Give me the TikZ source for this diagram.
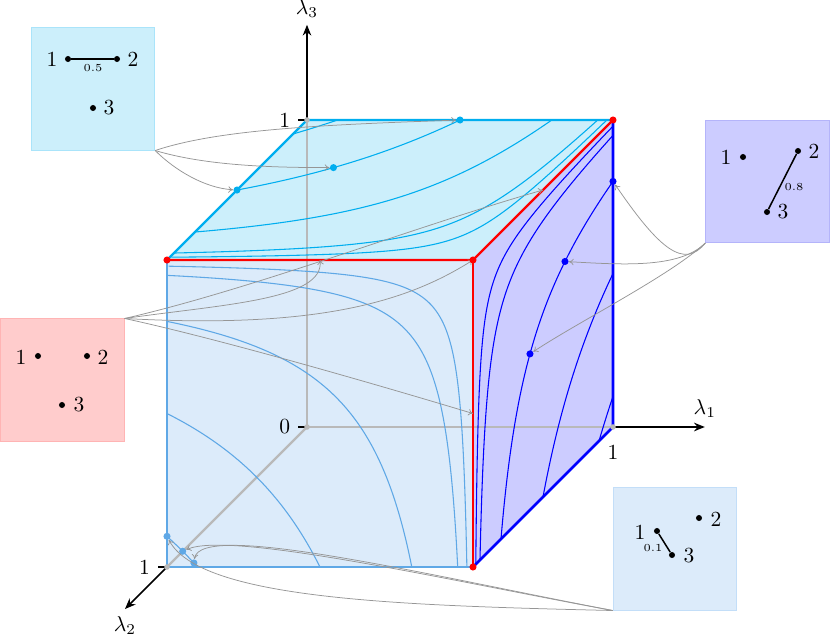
\documentclass[tikz,border=0pt]{standalone}
\usetikzlibrary{arrows.meta}
\definecolor{cyanC}{RGB}{0,174,239}
\definecolor{cyanF}{RGB}{204,239,251}
\definecolor{cyanB}{RGB}{170,228,250}
\definecolor{frontC}{RGB}{95,168,230}
\definecolor{frontF}{RGB}{220,235,250}
\definecolor{frontB}{RGB}{195,222,248}
\definecolor{blueC}{RGB}{0,0,255}
\definecolor{blueF}{RGB}{204,204,255}
\definecolor{blueB}{RGB}{180,180,250}
\definecolor{redC}{RGB}{255,0,0}
\definecolor{redF}{RGB}{255,204,204}
\definecolor{redB}{RGB}{255,180,180}
\definecolor{axisG}{RGB}{185,185,185}
\definecolor{connG}{RGB}{150,150,150}
\begin{document}
\begin{tikzpicture}[x=0.4649pt,y=-0.4649pt,
 infobox/.style={rectangle, minimum width=57.4pt, minimum height=56.8pt, inner sep=0pt, line width=0.4pt},
 bdot/.style={circle, fill=black, inner sep=0pt, minimum size=2.8pt},
 gdot/.style={circle, fill=axisG, inner sep=0pt, minimum size=2.6pt},
 cdot/.style={circle, fill=#1, inner sep=0pt, minimum size=3.3pt},
 lab/.style={inner sep=0pt},
 smalllab/.style={font=\tiny, inner sep=0pt},
 conn/.style={draw=connG, line width=0.35pt, -{To[length=2.2pt,width=3pt]}},
 curve/.style={line width=0.5pt},
 axarrow/.style={line width=0.7pt, -{Stealth[length=5pt,width=4pt]}},
 ticksty/.style={line width=0.6pt},
 pairline/.style={line width=0.7pt}]
\useasboundingbox (0,0) rectangle (830,638);

% ---------- info boxes ----------
\node[infobox, fill=cyanF, draw=cyanB] (tlbox) at (93,89) {};
\node[infobox, fill=blueF, draw=blueB] (rbox) at (767.5,181.5) {};
\node[infobox, fill=redF, draw=redB] (lbox) at (62.5,380) {};
\node[infobox, fill=frontF, draw=frontB] (brbox) at (675,549) {};

% top-left box
\node[bdot] (a1) at (68,59) {};
\node[bdot] (a2) at (117,59) {};
\node[bdot] (a3) at (93,108) {};
\node[lab] (la1) at (52,59) {1};
\node[lab] (la2) at (133,59) {2};
\node[lab] (la3) at (109,108) {3};
\draw[pairline] (a1) -- (a2);
\node[smalllab] (da) at (93,68) {0.5};

% right box
\node[bdot] (b1) at (743,157) {};
\node[bdot] (b2) at (798,151) {};
\node[bdot] (b3) at (767,212) {};
\node[lab] (lb1) at (726,157) {1};
\node[lab] (lb2) at (814,151) {2};
\node[lab] (lb3) at (783,212) {3};
\draw[pairline] (b2) -- (b3);
\node[smalllab] (db) at (794,187) {0.8};

% left (red) box
\node[bdot] (c1) at (38,356) {};
\node[bdot] (c2) at (87,356) {};
\node[bdot] (c3) at (62,405) {};
\node[lab] (lc1) at (21,357) {1};
\node[lab] (lc2) at (103,357) {2};
\node[lab] (lc3) at (79,405) {3};

% bottom-right box
\node[bdot] (d1) at (657,531) {};
\node[bdot] (d2) at (699,518) {};
\node[bdot] (d3) at (672,555) {};
\node[lab] (ld1) at (640,532) {1};
\node[lab] (ld2) at (716,519) {2};
\node[lab] (ld3) at (689,556) {3};
\draw[pairline] (d1) -- (d3);
\node[smalllab] (dd) at (653,548) {0.1};

% ---------- cube ----------
\begin{scope}[shift={(307,427)}, x={(142.26pt,0pt)}, y={(-65.09pt,-65.09pt)}, z={(0pt,142.72pt)}]
\coordinate (O) at (0,0,0);
\coordinate (X) at (1,0,0);
\coordinate (Y) at (0,1,0);
\coordinate (Z) at (0,0,1);
\coordinate (XY) at (1,1,0);
\coordinate (XZ) at (1,0,1);
\coordinate (YZ) at (0,1,1);
\coordinate (XYZ) at (1,1,1);
\coordinate (Xend) at (1.3,0,0);
\coordinate (Yend) at (0,1.3,0);
\coordinate (Zend) at (0,0,1.31);
\coordinate (m1) at (1,0.5,1);
\coordinate (m2) at (0.5,1,1);
\coordinate (m3) at (1,1,0.5);

\fill[frontF] (Y) -- (XY) -- (XYZ) -- (YZ) -- cycle;
\fill[cyanF] (YZ) -- (XYZ) -- (XZ) -- (Z) -- cycle;
\fill[blueF] (XY) -- (X) -- (XZ) -- (XYZ) -- cycle;

\draw[axisG, line width=1pt] (O) -- (X);
\draw[axisG, line width=1pt] (O) -- (Y);
\draw[axisG, line width=1pt] (O) -- (Z);

\foreach \k in {0.9,0.5,0.2,0.05,0.02}{
  \pgfmathsetmacro\T{-0.5*ln(\k)}
  \draw[curve, frontC] plot[variable=\t, domain=-\T:\T, samples=80, smooth]
     ({1-sqrt(\k)*exp(\t)},1,{1-sqrt(\k)*exp(-\t)});
  \draw[curve, cyanC] plot[variable=\t, domain=-\T:\T, samples=80, smooth]
     ({1-sqrt(\k)*exp(\t)},{1-sqrt(\k)*exp(-\t)},1);
  \draw[curve, blueC] plot[variable=\t, domain=-\T:\T, samples=80, smooth]
     (1,{1-sqrt(\k)*exp(\t)},{1-sqrt(\k)*exp(-\t)});
}

\draw[frontC, line width=1pt] (YZ) -- (Y) -- (XY);
\draw[cyanC, line width=1pt] (YZ) -- (Z) -- (XZ);
\draw[blueC, line width=1.2pt] (XZ) -- (X) -- (XY);
\draw[redC, line width=1pt] (YZ) -- (XYZ) -- (XZ);
\draw[redC, line width=1pt] (XYZ) -- (XY);

% axes outside the cube
\draw[axarrow] (X) -- (Xend);
\draw[axarrow] (Y) -- (Yend);
\draw[axarrow] (Z) -- (Zend);
\node[above=1pt] (l1) at (Xend) {$\lambda_1$};
\node[below] (l2) at (Yend) {$\lambda_2$};
\node[above] (l3) at (Zend) {$\lambda_3$};

\draw[ticksty] (O) -- ++(-0.03,0,0) node[left] (t0) {0};
\draw[ticksty] (Z) -- ++(-0.03,0,0) node[left] (tz) {1};
\draw[ticksty] (Y) -- ++(-0.03,0,0) node[left] (ty) {1};
\node[below=5pt] (tx) at (X) {1};

\node[gdot] (gO) at (O) {};
\node[gdot] (gX) at (X) {};
\node[gdot] (gY) at (Y) {};
\node[gdot] (gZ) at (Z) {};

% dots on faces
\node[cdot=frontC] (f1) at (0,1,0.1) {};
\node[cdot=frontC] (f2) at (0.0513,1,0.0513) {};
\node[cdot=frontC] (f3) at (0.088,1,0.0132) {};
\node[cdot=cyanC] (p1) at (0,0.5,1) {};
\node[cdot=cyanC] (p2) at (0.242,0.340,1) {};
\node[cdot=cyanC] (p3) at (0.5,0,1) {};
\node[cdot=blueC] (r3) at (1,0,0.8) {};
\node[cdot=blueC] (r2) at (1,0.343,0.6956) {};
\node[cdot=blueC] (r1) at (1,0.593,0.5086) {};
\end{scope}

% ---------- connectors ----------
\draw[conn] (tlbox.south east) .. controls +(60,-20) and +(-150,5) .. (p3);
\draw[conn] (tlbox.south east) .. controls +(50,15) and +(-63,0) .. (p2);
\draw[conn] (tlbox.south east) .. controls +(20,20) and +(-32,-2) .. (p1);

\draw[conn] (rbox.south west) .. controls +(-21,26) and +(47,69) .. (r3);
\draw[conn] (rbox.south west) .. controls +(-26,26) and +(55,3) .. (r2);
\draw[conn] (rbox.south west) .. controls +(-36,33) and +(50,-33) .. (r1);

\draw[conn] (lbox.north east) .. controls +(127,-29) and +(-123,35) .. (m1);
\draw[conn] (lbox.north east) .. controls +(97,-14) and +(5,40) .. (m2);
\draw[conn] (lbox.north east) .. controls +(197,11) and +(-63,40) .. (XYZ);
\draw[conn] (lbox.north east) .. controls +(97,21) and +(-93,-28) .. (m3);

\draw[conn] (brbox.south west) .. controls +(-164,-30) and +(47,-21) .. (f2);
\draw[conn] (brbox.south west) .. controls +(-184,-35) and +(6,-43) .. (f3);
\draw[conn] (brbox.south west) .. controls +(-214,-5) and +(33,63) .. (f1);

% red vertices on top
\begin{scope}[shift={(307,427)}, x={(142.26pt,0pt)}, y={(-65.09pt,-65.09pt)}, z={(0pt,142.72pt)}]
\node[cdot=redC] (vYZ) at (0,1,1) {};
\node[cdot=redC] (vXYZ) at (1,1,1) {};
\node[cdot=redC] (vXZ) at (1,0,1) {};
\node[cdot=redC] (vXY) at (1,1,0) {};
\end{scope}
\end{tikzpicture}
\end{document}
